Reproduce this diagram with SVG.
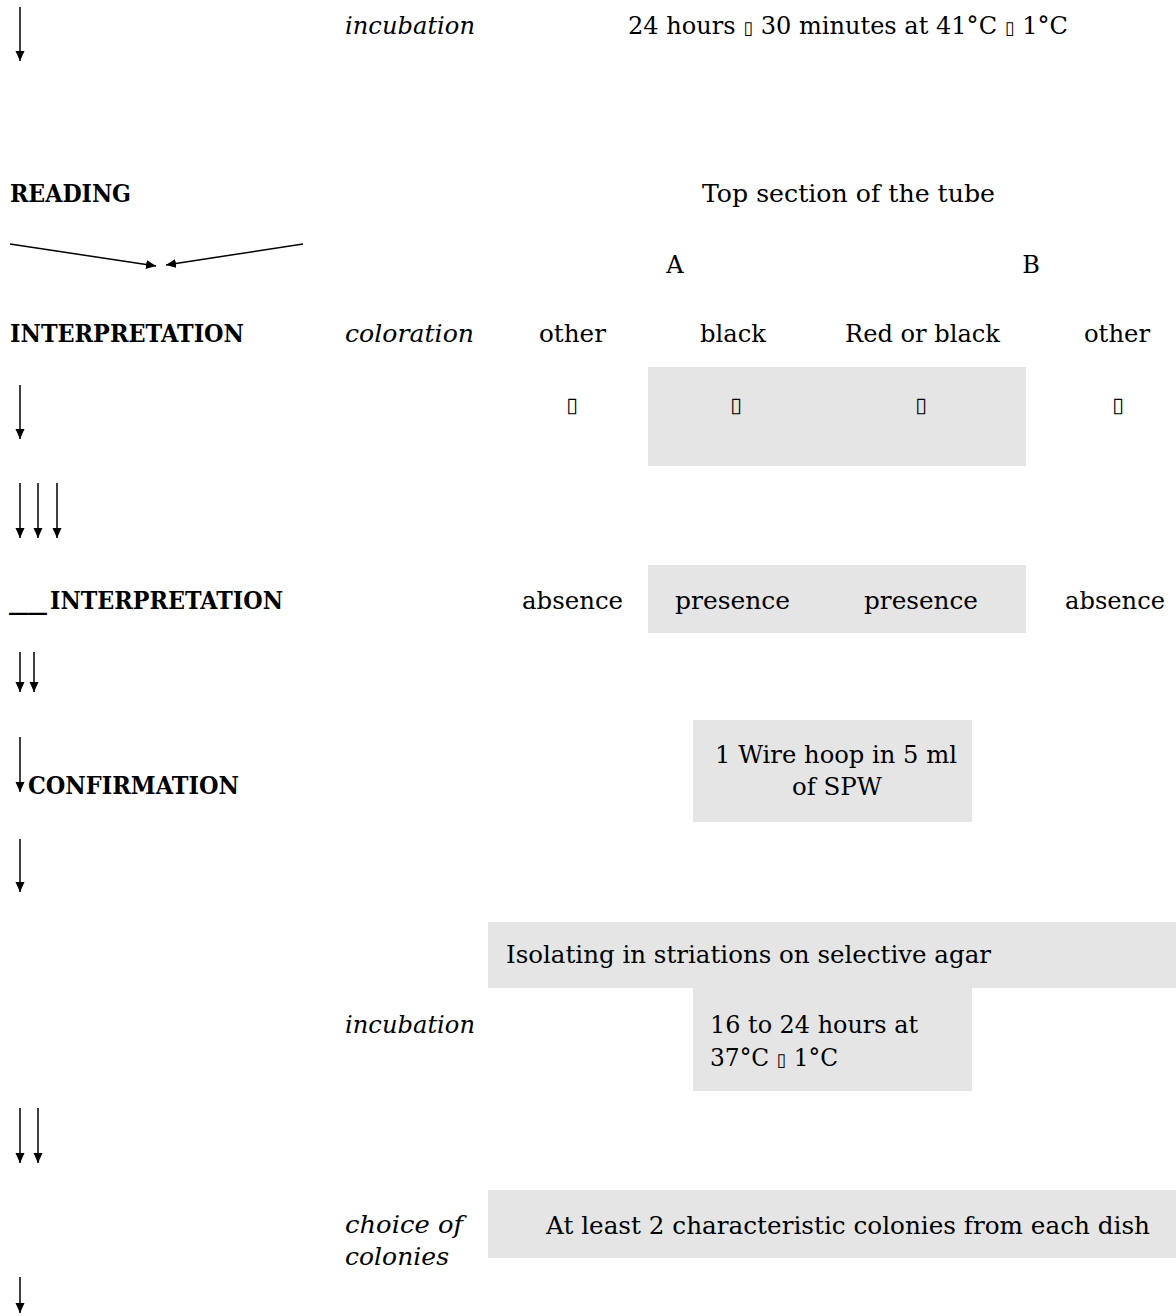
<svg xmlns="http://www.w3.org/2000/svg" width="1176" height="1316" viewBox="0 0 1176 1316">
<defs>
<marker id="ah" viewBox="0 0 10 10" refX="10" refY="5" markerWidth="10" markerHeight="10" markerUnits="userSpaceOnUse" orient="auto">
<path d="M0,0.5 L10,5 L0,9.5 Z" fill="#000"/>
</marker>
<style>
text{font-family:"DejaVu Serif","Liberation Serif",serif;font-size:24px;fill:#000}
.b{font-weight:bold}
.i{font-style:italic}
.sq{font-family:"DejaVu Sans",sans-serif;font-size:21px;fill:#000}
.sqi{font-family:"DejaVu Sans",sans-serif;font-size:18px}
.grey{fill:#e5e5e5}
.arr{stroke:#000;stroke-width:1.5;fill:none;marker-end:url(#ah)}
</style>
</defs>
<rect width="1176" height="1316" fill="#fff"/>

<g id="boxes">
<rect class="grey" x="648" y="367" width="378" height="99"/>
<rect class="grey" x="648" y="565" width="378" height="68"/>
<rect class="grey" x="693" y="720" width="279" height="102"/>
<rect class="grey" x="488" y="922" width="688" height="66"/>
<rect class="grey" x="693" y="988" width="279" height="103"/>
<rect class="grey" x="488" y="1190" width="688" height="68"/>
</g>

<g id="connectors">
<line class="arr" x1="20" y1="7" x2="20" y2="61"/>
<line class="arr" x1="10" y1="244" x2="156" y2="266"/>
<line class="arr" x1="303" y1="244" x2="166" y2="265"/>
<line class="arr" x1="20" y1="385" x2="20" y2="439"/>
<line class="arr" x1="20" y1="483" x2="20" y2="538"/>
<line class="arr" x1="38" y1="483" x2="38" y2="538"/>
<line class="arr" x1="57" y1="483" x2="57" y2="538"/>
<line class="arr" x1="20" y1="652" x2="20" y2="692"/>
<line class="arr" x1="34" y1="652" x2="34" y2="692"/>
<line class="arr" x1="20" y1="737" x2="20" y2="792"/>
<line class="arr" x1="20" y1="839" x2="20" y2="892"/>
<line class="arr" x1="20" y1="1108" x2="20" y2="1163"/>
<line class="arr" x1="38" y1="1108" x2="38" y2="1163"/>
<line class="arr" x1="20" y1="1277" x2="20" y2="1313"/>
</g>

<g id="incubation1">
<text class="i" x="345" y="34" textLength="130" lengthAdjust="spacingAndGlyphs">incubation</text>
<text x="628" y="34" textLength="440" lengthAdjust="spacingAndGlyphs">24 hours <tspan class="sqi">▯</tspan> 30 minutes at 41°C <tspan class="sqi">▯</tspan> 1°C</text>
</g>

<g id="reading">
<text class="b" x="10" y="202" textLength="121" lengthAdjust="spacingAndGlyphs">READING</text>
<text x="702" y="202" textLength="293" lengthAdjust="spacingAndGlyphs">Top section of the tube</text>
<text x="675" y="273" text-anchor="middle">A</text>
<text x="1031" y="273" text-anchor="middle">B</text>
</g>

<g id="interpretation">
<text class="b" x="10" y="342" textLength="234" lengthAdjust="spacingAndGlyphs">INTERPRETATION</text>
<text class="i" x="345" y="342" textLength="129" lengthAdjust="spacingAndGlyphs">coloration</text>
<text x="539" y="342" textLength="67" lengthAdjust="spacingAndGlyphs">other</text>
<text x="700" y="342" textLength="66" lengthAdjust="spacingAndGlyphs">black</text>
<text x="845" y="342" textLength="155" lengthAdjust="spacingAndGlyphs">Red or black</text>
<text x="1084" y="342" textLength="66" lengthAdjust="spacingAndGlyphs">other</text>
<text class="sq" x="572" y="412" text-anchor="middle">▯</text>
<text class="sq" x="736" y="412" text-anchor="middle">▯</text>
<text class="sq" x="921" y="412" text-anchor="middle">▯</text>
<text class="sq" x="1118" y="412" text-anchor="middle">▯</text>
</g>

<g id="interpretation2">
<text class="b" x="9" y="609" textLength="38" lengthAdjust="spacingAndGlyphs">__</text>
<text class="b" x="50" y="609" textLength="233" lengthAdjust="spacingAndGlyphs">INTERPRETATION</text>
<text x="522" y="609" textLength="101" lengthAdjust="spacingAndGlyphs">absence</text>
<text x="675" y="609" textLength="115" lengthAdjust="spacingAndGlyphs">presence</text>
<text x="864" y="609" textLength="114" lengthAdjust="spacingAndGlyphs">presence</text>
<text x="1065" y="609" textLength="100" lengthAdjust="spacingAndGlyphs">absence</text>
</g>

<g id="confirmation">
<text class="b" x="28" y="794" textLength="211" lengthAdjust="spacingAndGlyphs">CONFIRMATION</text>
<text x="715" y="763" textLength="242" lengthAdjust="spacingAndGlyphs">1 Wire hoop in 5 ml</text>
<text x="792" y="795" textLength="90" lengthAdjust="spacingAndGlyphs">of SPW</text>
</g>

<g id="isolating">
<text x="506" y="963" textLength="485" lengthAdjust="spacingAndGlyphs">Isolating in striations on selective agar</text>
</g>

<g id="incubation2">
<text class="i" x="345" y="1033" textLength="130" lengthAdjust="spacingAndGlyphs">incubation</text>
<text x="710" y="1033" textLength="208" lengthAdjust="spacingAndGlyphs">16 to 24 hours at</text>
<text x="710" y="1066" textLength="128" lengthAdjust="spacingAndGlyphs">37°C <tspan class="sqi">▯</tspan> 1°C</text>
</g>

<g id="colonies">
<text class="i" x="345" y="1233" textLength="118" lengthAdjust="spacingAndGlyphs">choice of</text>
<text class="i" x="345" y="1265" textLength="104" lengthAdjust="spacingAndGlyphs">colonies</text>
<text x="546" y="1234" textLength="604" lengthAdjust="spacingAndGlyphs">At least 2 characteristic colonies from each dish</text>
</g>
</svg>
